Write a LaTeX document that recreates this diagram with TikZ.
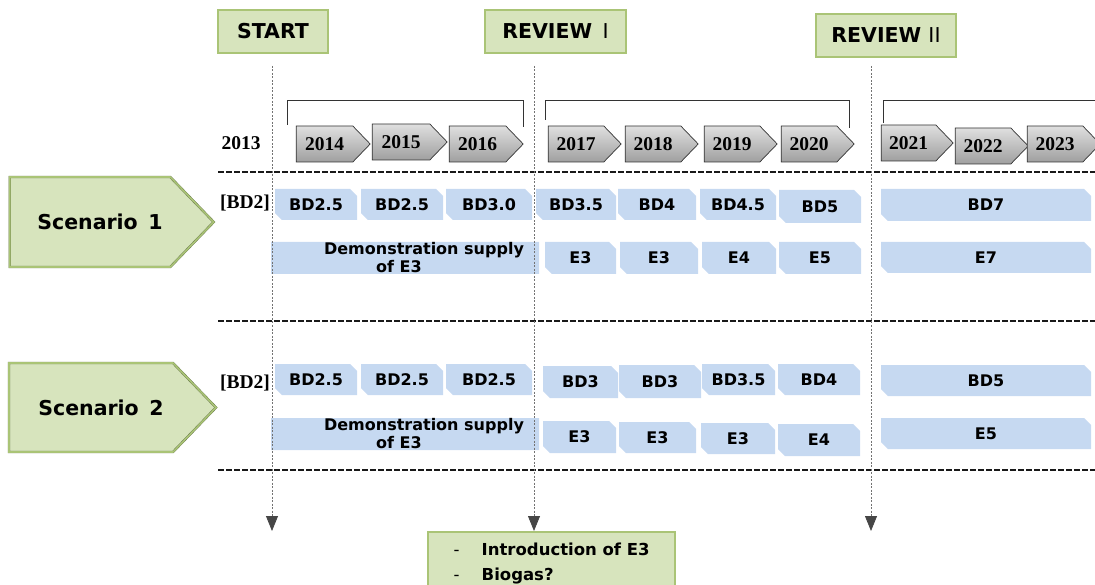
\documentclass[tikz,border=0pt]{standalone}
\usepackage{fontspec}
\newfontfamily\tagfont{DejaVu Sans}
\newfontfamily\yearfont{Liberation Serif}
\usetikzlibrary{shapes.misc,shapes.symbols,arrows.meta}

\definecolor{greenfill}{RGB}{215,228,189}
\definecolor{greenedge}{RGB}{170,196,118}
\definecolor{planblue}{RGB}{198,217,241}
\definecolor{tagdark}{RGB}{70,70,70}

\tikzset{
  milestone/.style={draw=greenedge!60!black, double=greenedge, double distance=1.6pt, line width=0.4pt,
    fill=greenfill, minimum height=43pt, inner sep=0pt, font=\tagfont\bfseries\fontsize{20.5}{24}\selectfont},
  scenario/.style={milestone, signal, signal to=east, signal pointer angle=92, font=\tagfont\bfseries\fontsize{20.5}{24}\selectfont},
  yeartag/.style={signal, signal to=east, signal pointer angle=92, top color=gray!25, bottom color=gray!75,
    draw=gray!40!black, line width=0.7pt, minimum height=36pt, inner sep=0pt, font=\yearfont\bfseries\fontsize{19.5}{22}\selectfont},
  yearplain/.style={font=\yearfont\bfseries\fontsize{19.5}{22}\selectfont},
  plan/.style={chamfered rectangle, chamfered rectangle corners={north east,south west}, chamfered rectangle xsep=4pt,
    fill=planblue, inner sep=0pt, font=\tagfont\bfseries\fontsize{16}{18}\selectfont},
  demotext/.style={inner sep=0pt, align=center, font=\tagfont\bfseries\fontsize{16}{18}\selectfont},
  bracket/.style={draw=gray!40!black, line width=0.8pt},
  divider/.style={draw=gray!20!black, line width=1.9pt, dash pattern=on 5.5pt off 2.5pt},
  guide/.style={draw=gray!90!black, line width=0.8pt, dash pattern=on 2pt off 1.5pt,
    -{Triangle[length=15pt,width=12pt,fill=tagdark,color=tagdark]}}
}

\begin{document}
\begin{tikzpicture}[x=1pt,y=-1pt]
\useasboundingbox (0,0) rectangle (1095,585);
\clip (0,0) rectangle (1095,585);

% milestones
\node[milestone, minimum width=110pt] (start) at (273,31.5) {START};
\node[milestone, minimum width=141pt] (rev1) at (555.5,31.5) {REVIEW\, {\mdseries I}};
\node[milestone, minimum width=140pt] (rev2) at (886,35.5) {REVIEW {\mdseries II}};

% years (node centre = body of the tag, tip is 17pt)
\node[yearplain] (y2013) at (241,143) {2013};
\foreach \yr/\xa/\xb/\yc in {2014/296/370/144, 2015/372/447/142, 2016/449/523/144, 2017/548/621/144,
    2018/625/698/144, 2019/704/777/144, 2020/781/854/144, 2021/881/953/143, 2022/955/1028/146, 2023/1027/1100/144}
  \node[yeartag, minimum width=\xb pt-\xa pt] (y\yr) at ({(\xa+\xb-17)/2},\yc) {\yr};

% phase brackets
\draw[bracket] (287,125) -- (287,100) -- (523,100) -- (523,127);
\draw[bracket] (545,120) -- (545,100) -- (849,100) -- (849,128);
\draw[bracket] (883,123) -- (883,100) -- (1100,100);

% scenarios
\node[scenario, minimum width=204pt, minimum height=90pt] (sc1) at (90,222) {\hspace*{20pt}Scenario\, 1};
\node[scenario, minimum width=207pt, minimum height=89pt] (sc2) at (91,407.5) {\hspace*{20pt}Scenario\, 2};
\node[yearplain] (base1) at (245,203) {[BD2]};
\node[yearplain] (base2) at (245,383) {[BD2]};

% scenario 1
\foreach \xa/\xb/\ya/\yb/\txt [count=\i] in {275/357/189/220/BD2.5, 361/443/189/220/BD2.5, 446/532/189/220/BD3.0,
    536/616/189/220/BD3.5, 618/696/189/220/BD4, 700/776/189/220/BD4.5, 779/861/190/223/BD5, 881/1091/189/221/BD7}
  \node[plan, minimum width=\xb pt-\xa pt, minimum height=\yb pt-\ya pt] (bd1-\i) at ({(\xa+\xb)/2},{(\ya+\yb)/2}) {\txt};
\node[plan, minimum width=268pt, minimum height=32pt,
  label={[demotext, xshift=19pt]center:{Demonstration supply\\of E3\hspace*{50pt}}}] (demo1) at (405,258) {};
\foreach \xa/\xb/\ya/\yb/\txt [count=\i] in {545/616/242/274/E3, 620/698/242/274/E3, 702/776/242/274/E4,
    779/861/242/274/E5, 881/1091/242/273/E7}
  \node[plan, minimum width=\xb pt-\xa pt, minimum height=\yb pt-\ya pt] (e1-\i) at ({(\xa+\xb)/2},{(\ya+\yb)/2}) {\txt};

% scenario 2
\foreach \xa/\xb/\ya/\yb/\txt [count=\i] in {275/357/364/395/BD2.5, 361/443/364/395/BD2.5, 446/532/364/395/BD2.5,
    543/618/366/398/BD3, 619/701/365/398/BD3, 702/775/364/395/BD3.5, 778/860/364/395/BD4, 881/1091/365/396/BD5}
  \node[plan, minimum width=\xb pt-\xa pt, minimum height=\yb pt-\ya pt] (bd2-\i) at ({(\xa+\xb)/2},{(\ya+\yb)/2}) {\txt};
\node[plan, minimum width=268pt, minimum height=32pt,
  label={[demotext, xshift=19pt]center:{Demonstration supply\\of E3\hspace*{50pt}}}] (demo2) at (405,434) {};
\foreach \xa/\xb/\ya/\yb/\txt [count=\i] in {543/616/421/453/E3, 619/696/422/453/E3, 701/775/423/454/E3,
    778/860/424/456/E4, 881/1091/418/449/E5}
  \node[plan, minimum width=\xb pt-\xa pt, minimum height=\yb pt-\ya pt] (e2-\i) at ({(\xa+\xb)/2},{(\ya+\yb)/2}) {\txt};

% row separators
\draw[divider] (218,172) -- (1095,172);
\draw[divider] (218,321) -- (1095,321);
\draw[divider] (218,470) -- (1095,470);

% outcome of review I
\node[milestone, anchor=north west, minimum width=247pt, minimum height=62pt, align=left,
  font=\tagfont\bfseries\fontsize{16.5}{25}\selectfont] (intro) at (428,532)
  {\mdseries-\hspace{22pt}\bfseries Introduction of E3\\\mdseries-\hspace{22pt}\bfseries Biogas?};

% time guides
\coordinate (g0top) at (272,66);
\coordinate (g0bot) at (272,531);
\coordinate (g1top) at (534,66);
\coordinate (g2top) at (871,66);
\coordinate (g2bot) at (871,531);
\draw[guide] (g0top) -- (g0bot);
\draw[guide, shorten >=1pt] (g1top) -- (g1top |- intro.north);
\draw[guide] (g2top) -- (g2bot);
\end{tikzpicture}
\end{document}
